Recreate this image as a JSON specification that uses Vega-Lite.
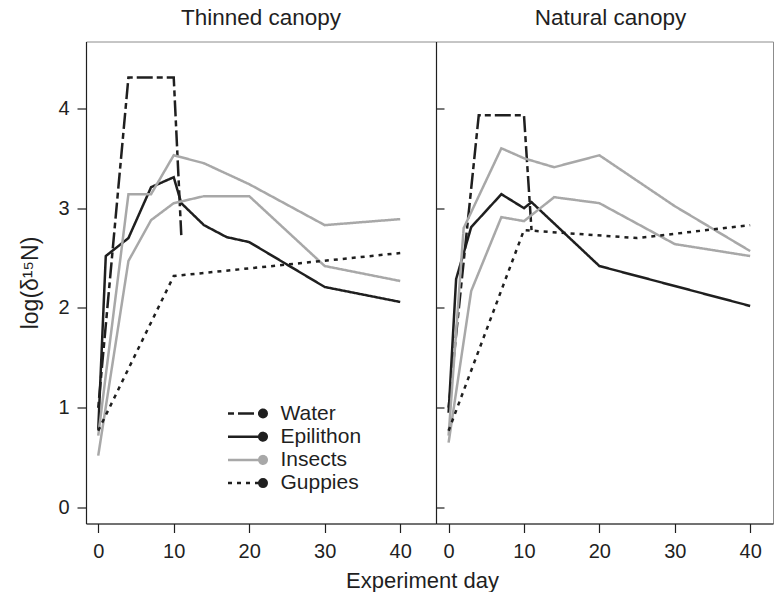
{
  "$schema": "https://vega.github.io/schema/vega-lite/v6.json",
  "autosize": {"type": "pad"},
  "padding": {"left": 18, "top": 6.5, "right": 0, "bottom": 0},
  "datasets": {
    "thin": [
      {"g": "Water", "l": "Water", "d": 0, "v": 1.0},
      {"g": "Water", "l": "Water", "d": 4, "v": 4.31},
      {"g": "Water", "l": "Water", "d": 7, "v": 4.31},
      {"g": "Water", "l": "Water", "d": 10, "v": 4.31},
      {"g": "Water", "l": "Water", "d": 11, "v": 2.73},
      {"g": "Epilithon", "l": "Epilithon", "d": 0, "v": 0.78},
      {"g": "Epilithon", "l": "Epilithon", "d": 1, "v": 2.52},
      {"g": "Epilithon", "l": "Epilithon", "d": 4, "v": 2.70},
      {"g": "Epilithon", "l": "Epilithon", "d": 7, "v": 3.21},
      {"g": "Epilithon", "l": "Epilithon", "d": 10, "v": 3.31},
      {"g": "Epilithon", "l": "Epilithon", "d": 11, "v": 3.05},
      {"g": "Epilithon", "l": "Epilithon", "d": 14, "v": 2.83},
      {"g": "Epilithon", "l": "Epilithon", "d": 17, "v": 2.71},
      {"g": "Epilithon", "l": "Epilithon", "d": 20, "v": 2.66},
      {"g": "Epilithon", "l": "Epilithon", "d": 30, "v": 2.21},
      {"g": "Epilithon", "l": "Epilithon", "d": 40, "v": 2.06},
      {"g": "Insects", "l": "Insects1", "d": 0, "v": 0.72},
      {"g": "Insects", "l": "Insects1", "d": 4, "v": 3.14},
      {"g": "Insects", "l": "Insects1", "d": 7, "v": 3.14},
      {"g": "Insects", "l": "Insects1", "d": 10, "v": 3.53},
      {"g": "Insects", "l": "Insects1", "d": 14, "v": 3.45},
      {"g": "Insects", "l": "Insects1", "d": 20, "v": 3.24},
      {"g": "Insects", "l": "Insects1", "d": 30, "v": 2.83},
      {"g": "Insects", "l": "Insects1", "d": 40, "v": 2.89},
      {"g": "Insects", "l": "Insects2", "d": 0, "v": 0.52},
      {"g": "Insects", "l": "Insects2", "d": 4, "v": 2.47},
      {"g": "Insects", "l": "Insects2", "d": 7, "v": 2.88},
      {"g": "Insects", "l": "Insects2", "d": 10, "v": 3.05},
      {"g": "Insects", "l": "Insects2", "d": 14, "v": 3.12},
      {"g": "Insects", "l": "Insects2", "d": 20, "v": 3.12},
      {"g": "Insects", "l": "Insects2", "d": 30, "v": 2.42},
      {"g": "Insects", "l": "Insects2", "d": 40, "v": 2.27},
      {"g": "Guppies", "l": "Guppies", "d": 0, "v": 0.77},
      {"g": "Guppies", "l": "Guppies", "d": 10, "v": 2.32},
      {"g": "Guppies", "l": "Guppies", "d": 40, "v": 2.55}
    ],
    "natural": [
      {"g": "Water", "l": "Water", "d": 0, "v": 1.0},
      {"g": "Water", "l": "Water", "d": 4, "v": 3.93},
      {"g": "Water", "l": "Water", "d": 7, "v": 3.93},
      {"g": "Water", "l": "Water", "d": 10, "v": 3.93},
      {"g": "Water", "l": "Water", "d": 11, "v": 2.78},
      {"g": "Epilithon", "l": "Epilithon", "d": 0, "v": 0.95},
      {"g": "Epilithon", "l": "Epilithon", "d": 1, "v": 2.29},
      {"g": "Epilithon", "l": "Epilithon", "d": 3, "v": 2.81},
      {"g": "Epilithon", "l": "Epilithon", "d": 7, "v": 3.14},
      {"g": "Epilithon", "l": "Epilithon", "d": 10, "v": 3.00},
      {"g": "Epilithon", "l": "Epilithon", "d": 11, "v": 3.06},
      {"g": "Epilithon", "l": "Epilithon", "d": 20, "v": 2.42},
      {"g": "Epilithon", "l": "Epilithon", "d": 40, "v": 2.02},
      {"g": "Insects", "l": "Insects1", "d": 0, "v": 0.72},
      {"g": "Insects", "l": "Insects1", "d": 2, "v": 2.80},
      {"g": "Insects", "l": "Insects1", "d": 7, "v": 3.60},
      {"g": "Insects", "l": "Insects1", "d": 10, "v": 3.50},
      {"g": "Insects", "l": "Insects1", "d": 14, "v": 3.41},
      {"g": "Insects", "l": "Insects1", "d": 20, "v": 3.53},
      {"g": "Insects", "l": "Insects1", "d": 30, "v": 3.02},
      {"g": "Insects", "l": "Insects1", "d": 40, "v": 2.57},
      {"g": "Insects", "l": "Insects2", "d": 0, "v": 0.65},
      {"g": "Insects", "l": "Insects2", "d": 3, "v": 2.17},
      {"g": "Insects", "l": "Insects2", "d": 7, "v": 2.91},
      {"g": "Insects", "l": "Insects2", "d": 10, "v": 2.87},
      {"g": "Insects", "l": "Insects2", "d": 14, "v": 3.11},
      {"g": "Insects", "l": "Insects2", "d": 20, "v": 3.05},
      {"g": "Insects", "l": "Insects2", "d": 30, "v": 2.64},
      {"g": "Insects", "l": "Insects2", "d": 40, "v": 2.52},
      {"g": "Guppies", "l": "Guppies", "d": 0, "v": 0.77},
      {"g": "Guppies", "l": "Guppies", "d": 10, "v": 2.78},
      {"g": "Guppies", "l": "Guppies", "d": 25, "v": 2.70},
      {"g": "Guppies", "l": "Guppies", "d": 40, "v": 2.83}
    ]
  },
  "spacing": 0,
  "bounds": "flush",
  "resolve": {
    "scale": {"x": "independent", "y": "independent", "color": "independent", "strokeDash": "independent"},
    "legend": {"color": "independent", "strokeDash": "independent"}
  },
  "hconcat": [
    {
      "width": 350,
      "height": 482,
      "title": {"text": "Thinned canopy", "offset": 12},
      "data": {"name": "thin"},
      "mark": {"type": "line", "strokeWidth": 2.5},
      "encoding": {
        "x": {
          "field": "d", "type": "quantitative",
          "scale": {"domain": [-1.62, 44.74], "nice": false, "zero": false},
          "axis": {"values": [0, 10, 20, 30, 40], "title": "Experiment day", "titleX": 336, "titleY": 64, "titleBaseline": "alphabetic", "titleFontSize": 22, "labelPadding": 9, "labelFlush": false}
        },
        "y": {
          "field": "v", "type": "quantitative",
          "scale": {"domain": [-0.16, 4.67], "nice": false, "zero": false},
          "axis": {"values": [0, 1, 2, 3, 4], "title": "log(δ¹⁵N)", "titleFontSize": 23, "titleX": -49, "titleY": 241, "titleBaseline": "alphabetic", "labelPadding": 8, "labelFlush": false}
        },
        "color": {
          "field": "g", "type": "nominal",
          "scale": {"domain": ["Water", "Epilithon", "Insects", "Guppies"], "range": ["#1f1f1f", "#1f1f1f", "#a8a8a8", "#1f1f1f"]},
          "legend": {
            "orient": "none", "legendX": 166.5, "legendY": 361.5, "title": null, "padding": 0,
            "symbolType": "M -7 0 L -0.75 0 M 0.75 0 A 0.75 0.75 0 0 1 0.53 0.53 M 0.53 0.53 A 0.75 0.75 0 0 1 0 0.75 M 0 0.75 A 0.75 0.75 0 0 1 -0.53 0.53 M -0.53 0.53 A 0.75 0.75 0 0 1 -0.75 0 M -0.75 0 A 0.75 0.75 0 0 1 -0.53 -0.53 M -0.53 -0.53 A 0.75 0.75 0 0 1 0 -0.75 M 0 -0.75 A 0.75 0.75 0 0 1 0.53 -0.53 M 0.53 -0.53 A 0.75 0.75 0 0 1 0.75 0 M 0.75 0 L 0.53 0.53 L 0 0.75 L -0.53 0.53 L -0.75 0 L -0.53 -0.53 L 0 -0.75 L 0.53 -0.53 Z",
            "symbolSize": 100, "symbolStrokeWidth": 2.5, "labelFontSize": 21, "labelOffset": 7, "rowPadding": 1.2, "labelColor": "#1f1f1f",
            "encode": {"symbols": {"update": {"fill": {"signal": "datum.value === 'Insects' ? '#a8a8a8' : '#1f1f1f'"}, "fillOpacity": {"value": 1}}}}
          }
        },
        "strokeDash": {
          "field": "g", "type": "nominal",
          "scale": {"domain": ["Water", "Epilithon", "Insects", "Guppies"], "range": [[6, 4, 16, 4], [1, 0], [1, 0], [4, 5]]},
          "legend": {
            "orient": "none", "legendX": 166.5, "legendY": 361.5, "title": null, "padding": 0,
            "symbolType": "M -7 0 L -0.75 0 M 0.75 0 A 0.75 0.75 0 0 1 0.53 0.53 M 0.53 0.53 A 0.75 0.75 0 0 1 0 0.75 M 0 0.75 A 0.75 0.75 0 0 1 -0.53 0.53 M -0.53 0.53 A 0.75 0.75 0 0 1 -0.75 0 M -0.75 0 A 0.75 0.75 0 0 1 -0.53 -0.53 M -0.53 -0.53 A 0.75 0.75 0 0 1 0 -0.75 M 0 -0.75 A 0.75 0.75 0 0 1 0.53 -0.53 M 0.53 -0.53 A 0.75 0.75 0 0 1 0.75 0 M 0.75 0 L 0.53 0.53 L 0 0.75 L -0.53 0.53 L -0.75 0 L -0.53 -0.53 L 0 -0.75 L 0.53 -0.53 Z",
            "symbolSize": 100, "symbolStrokeWidth": 2.5, "labelFontSize": 21, "labelOffset": 7, "rowPadding": 1.2, "labelColor": "#1f1f1f",
            "encode": {"symbols": {"update": {"fill": {"signal": "datum.value === 'Insects' ? '#a8a8a8' : '#1f1f1f'"}, "fillOpacity": {"value": 1}}}}
          }
        },
        "detail": {"field": "l", "type": "nominal"}
      }
    },
    {
      "width": 337,
      "height": 482,
      "title": {"text": "Natural canopy", "offset": 12, "dx": 6},
      "data": {"name": "natural"},
      "mark": {"type": "line", "strokeWidth": 2.5},
      "encoding": {
        "x": {
          "field": "d", "type": "quantitative",
          "scale": {"domain": [-1.67, 43.03], "nice": false, "zero": false},
          "axis": {"values": [0, 10, 20, 30, 40], "title": null, "labelPadding": 9, "labelFlush": false}
        },
        "y": {
          "field": "v", "type": "quantitative",
          "scale": {"domain": [-0.16, 4.67], "nice": false, "zero": false},
          "axis": {"values": [0, 1, 2, 3, 4], "title": null, "labels": false, "tickSize": -8}
        },
        "color": {
          "field": "g", "type": "nominal",
          "scale": {"domain": ["Water", "Epilithon", "Insects", "Guppies"], "range": ["#1f1f1f", "#1f1f1f", "#a8a8a8", "#1f1f1f"]},
          "legend": null
        },
        "strokeDash": {
          "field": "g", "type": "nominal",
          "scale": {"domain": ["Water", "Epilithon", "Insects", "Guppies"], "range": [[6, 4, 16, 4], [1, 0], [1, 0], [4, 5]]},
          "legend": null
        },
        "detail": {"field": "l", "type": "nominal"}
      }
    }
  ],
  "config": {
    "font": "Liberation Sans",
    "view": {"stroke": "#8c8c8c", "strokeWidth": 1},
    "axis": {
      "grid": false, "domainColor": "#1f1f1f", "tickColor": "#1f1f1f", "labelColor": "#1f1f1f", "titleColor": "#1f1f1f",
      "labelFontSize": 20, "titleFontSize": 21, "titleFontWeight": "normal", "tickSize": 9, "domainWidth": 1.2, "tickWidth": 1.2
    },
    "title": {"fontSize": 22.5, "fontWeight": "normal", "color": "#1f1f1f"}
  }
}
